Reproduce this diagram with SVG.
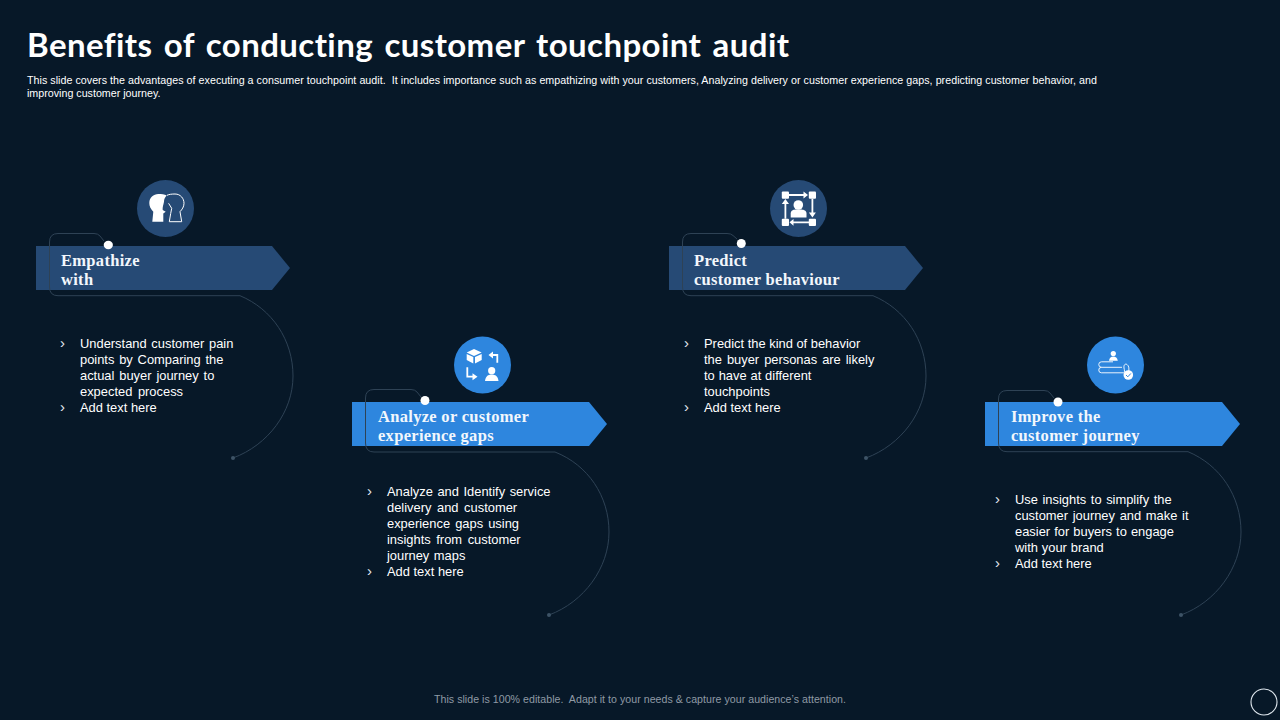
<svg xmlns="http://www.w3.org/2000/svg" width="1280" height="720" viewBox="0 0 1280 720">
<style>
text{white-space:pre}
.title{font:700 33px Lato,"Liberation Sans",sans-serif;font-variant-ligatures:none;fill:#fff;word-spacing:3px}
.desc{font:400 10.7px "Liberation Sans",Arial,sans-serif;fill:#fff}
.foot{font:400 10.6px "Liberation Sans",Arial,sans-serif;fill:#8f9aa5}
.head{font:700 16.5px "Liberation Serif","Times New Roman",serif;fill:#f2f7fc;letter-spacing:.3px}
.body{font:400 12.9px "Liberation Sans",Arial,sans-serif;fill:#fff}
.bl{font-size:15px;fill:#e4eaf0}
.line{fill:none;stroke:#2e4255;stroke-width:1}
.end{fill:#3d5366}
.dot{fill:#fff}
.dk{fill:#264a75}
.lt{fill:#2e86de}
.ic{fill:#fff}
.il{fill:none;stroke:#fff;stroke-width:1.8}
.th{fill:none;stroke:#fff;stroke-width:1}
</style>
<rect width="1280" height="720" fill="#071828"/>
<text class="title" x="27" y="57" textLength="762" lengthAdjust="spacing">Benefits of conducting customer touchpoint audit</text>
<text class="desc" x="27" y="84" textLength="1070" lengthAdjust="spacing">This slide covers the advantages of executing a consumer touchpoint audit.  It includes importance such as empathizing with your customers, Analyzing delivery or customer experience gaps, predicting customer behavior, and</text>
<text class="desc" x="27" y="97">improving customer journey.</text>

<g id="node-empathize">
<polygon class="dk" points="36,246 272,246 290,268 272,290 36,290"/>
<text class="head" x="61" y="265.500">Empathize</text><text class="head" x="61" y="284.500">with</text>
<circle class="dk" cx="165.500" cy="208.500" r="28.500"/>
<path class="ic" d="M152.300 221.700L153.300 211.700C150.500 209 149.300 206 149.300 203C149.300 197.500 153.500 194 158.300 194C161.500 194 164.500 194.300 166.700 195.500C164.800 197.500 164 199.500 164 201.700C163.600 204 162.300 207.500 162.700 210L165.700 211.700L163.300 213.500L163.300 221.700Z"/>
<path class="th" d="M167 195.300C169 194.300 172 194 175 194C180.500 194 184 198.500 184 203.300C184 207 182 209.500 180 211.700L181.700 221.700H169.300L170.700 213.500L171.700 208.300L168.600 203.300"/>
<g class="body"><text class="bl" x="60" y="348">›</text><text x="80" y="348" word-spacing="1.1">Understand customer pain</text><text x="80" y="364" word-spacing="1.2">points by Comparing the</text><text x="80" y="380" word-spacing="1.3">actual buyer journey to</text><text x="80" y="396" word-spacing="2">expected process</text><text class="bl" x="60" y="412">›</text><text x="80" y="412">Add text here</text></g>
</g>

<g id="node-analyze">
<polygon class="lt" points="352,402 589,402 607,424 589,446 352,446"/>
<text class="head" x="378" y="421.500">Analyze or customer</text><text class="head" x="378" y="440.500">experience gaps</text>
<circle class="lt" cx="482.500" cy="365" r="28.500"/>
<path class="ic" d="M474 349L481.700 352.500L474 356L466.700 352.500ZM466.700 354L473.300 357V363.500L466.700 360ZM481.700 354V360L475 363.500V357Z"/>
<path class="il" d="M497.300 362.700V355H491"/><path class="ic" d="M493 351.500V358.500L488.500 355Z"/>
<path class="il" d="M467.300 367.300V376.700H474"/><path class="ic" d="M472.500 373.200V380.200L477.500 376.700Z"/>
<circle class="ic" cx="491.700" cy="370.700" r="3.600"/>
<path class="ic" d="M485 381C485.500 376.500 488 374.500 491.700 374.500C495.400 374.500 498 376.500 498.500 381Z"/>
<g class="body"><text class="bl" x="367" y="496">›</text><text x="387" y="496" word-spacing="1">Analyze and Identify service</text><text x="387" y="512" word-spacing="2">delivery and customer</text><text x="387" y="528" word-spacing="1.5">experience gaps using</text><text x="387" y="544" word-spacing="2">insights from customer</text><text x="387" y="560" word-spacing="1">journey maps</text><text class="bl" x="367" y="576">›</text><text x="387" y="576">Add text here</text></g>
</g>

<g id="node-predict">
<polygon class="dk" points="669,246 905,246 923,268 905,290 669,290"/>
<text class="head" x="694" y="265.500">Predict</text><text class="head" x="694" y="284.500">customer behaviour</text>
<circle class="dk" cx="798.500" cy="208.500" r="28.500"/>
<g class="ic"><rect x="781.800" y="191.500" width="7.200" height="7.200" rx="1"/><rect x="808.800" y="191.500" width="7.200" height="7.200" rx="1"/><rect x="781.800" y="218.800" width="7.200" height="7.200" rx="1"/><rect x="808.800" y="218.800" width="7.200" height="7.200" rx="1"/>
<path d="M803.500 191.500L808 195L803.500 198.500ZM808.900 212.500H815.900L812.400 217.500ZM793.500 218.900V225.700L789.500 222.300ZM785.400 199L789 204H781.800Z"/>
<circle cx="798.300" cy="205" r="4.800"/><path d="M790.700 217.500V213.500C790.700 210.800 793 209.800 795 209.500H801.500C804 209.800 806.500 210.800 806.500 213.500V217.500Z"/></g>
<path class="il" d="M789 195H805M812.400 198.700V213M809 222.300H792M785.400 218.800V203"/>
<g class="body"><text class="bl" x="684" y="348">›</text><text x="704" y="348">Predict the kind of behavior</text><text x="704" y="364" word-spacing="1.4">the buyer personas are likely</text><text x="704" y="380" word-spacing=".3">to have at different</text><text x="704" y="396">touchpoints</text><text class="bl" x="684" y="412">›</text><text x="704" y="412">Add text here</text></g>
</g>

<g id="node-improve">
<polygon class="lt" points="985,402 1222,402 1240,424 1222,446 985,446"/>
<text class="head" x="1011" y="421.500">Improve the</text><text class="head" x="1011" y="440.500">customer journey</text>
<circle class="lt" cx="1115.500" cy="365" r="28.500"/>
<circle class="ic" cx="1113.300" cy="353.500" r="2.600"/>
<path class="ic" d="M1109 360.700C1109.500 357.500 1111 356.500 1113.300 356.500C1115.600 356.500 1117.300 357.500 1117.800 360.700Z"/>
<path fill="none" stroke="#fff" stroke-width=".9" d="M1113 361.800H1101.500a2.750 2.750 0 0 0 0 5.500H1122M1101.500 367.300a2.750 2.750 0 0 0 0 5.500H1123.500C1125 372.800 1124.500 370 1124 368C1123.500 364.500 1125.500 363.500 1127 364.500C1129 366 1129 368 1128.800 371"/>
<circle class="ic" cx="1128.300" cy="375" r="4.800"/>
<path fill="none" stroke="#2e86de" stroke-width="1" d="M1126 375L1127.800 376.800L1130.800 373.500"/>
<g class="body"><text class="bl" x="995" y="504">›</text><text x="1015" y="504" word-spacing="1">Use insights to simplify the</text><text x="1015" y="520" word-spacing="1.1">customer journey and make it</text><text x="1015" y="536" word-spacing=".5">easier for buyers to engage</text><text x="1015" y="552" word-spacing=".3">with your brand</text><text class="bl" x="995" y="568">›</text><text x="1015" y="568">Add text here</text></g>
</g>

<g id="connectors">
<path class="line" d="M104 241L100 236Q98 233.500 94 233.500H58Q49.500 233.500 49.500 242V287Q49.500 295.700 58 295.700H240C272 309 293 340 293 376C293 412 268 445 233 458"/>
<circle class="end" cx="233" cy="458" r="2"/><ellipse class="dot" cx="108.300" cy="245" rx="4.600" ry="4.200"/>
<path class="line" d="M421 397L417 392Q415 389.500 411 389.500H374Q365.500 389.500 365.500 398V443Q365.500 452 374 452H555C588 465 609 496 609 532C609 568 584 602 549 615"/>
<circle class="end" cx="549" cy="615" r="2"/><circle class="dot" cx="425" cy="400.500" r="4.500"/>
<path class="line" d="M737 239L733 235.500Q731 233.500 727 233.500H691Q682.500 233.500 682.500 242V287Q682.500 295.700 691 295.700H873C905 309 926 340 926 376C926 412 901 445 866 458"/>
<circle class="end" cx="866" cy="458" r="2"/><circle class="dot" cx="741.300" cy="243.500" r="4.500"/>
<path class="line" d="M1054 398L1050 393Q1048 390.500 1044 390.500H1007Q998.500 390.500 998.500 399V443Q998.500 451.700 1007 451.700H1188C1220 465 1241 496 1241 532C1241 568 1216 602 1181 615"/>
<circle class="end" cx="1181" cy="615" r="2"/><circle class="dot" cx="1058" cy="402" r="4.500"/>
</g>

<text class="foot" x="434" y="703" textLength="412" lengthAdjust="spacing">This slide is 100% editable.  Adapt it to your needs &amp; capture your audience’s attention.</text>
<circle cx="1264" cy="702" r="13" fill="none" stroke="#dfe7ee" stroke-width="1.100"/>
</svg>
